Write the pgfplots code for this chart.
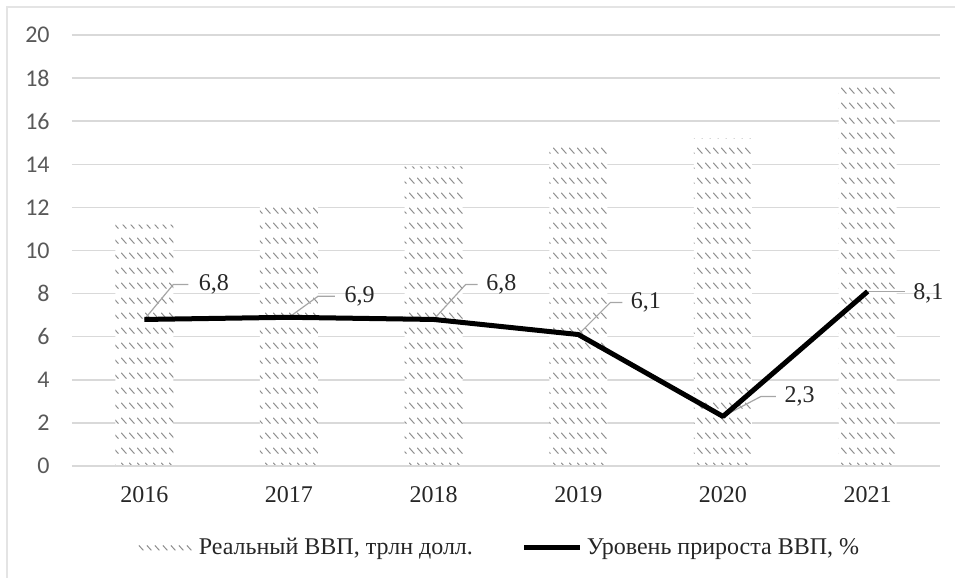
\documentclass[border=0pt]{standalone}
\usepackage{pgfplots}
\pgfplotsset{compat=1.18}
\usetikzlibrary{patterns}
\usepackage{fontspec}
\setmainfont{Liberation Serif}
\newfontfamily\carlito{Carlito}
\definecolor{gridc}{HTML}{D9D9D9}
\definecolor{tickc}{HTML}{595959}
\definecolor{hatchc}{HTML}{8F8F8F}
\definecolor{leadc}{HTML}{A6A6A6}
\definecolor{labc}{HTML}{262626}
\pgfdeclarepatternformonly{dashrows}{\pgfqpoint{-1pt}{-1pt}}{\pgfqpoint{5pt}{8.5pt}}{\pgfqpoint{4pt}{7.5pt}}{%
  \pgfsetlinewidth{0.5pt}\pgfsetroundcap
  \pgfpathmoveto{\pgfqpoint{0.7pt}{5pt}}\pgfpathlineto{\pgfqpoint{3.1pt}{2.3pt}}\pgfusepath{stroke}}
\begin{document}
\begin{tikzpicture}
\path[use as bounding box] (-36pt,-56pt) rectangle (441.5pt,233pt);
\draw[gridc!70, line width=0.6pt] (-32.5pt,-56pt) -- (-32.5pt,229.5pt) -- (441.5pt,229.5pt);
\begin{axis}[
  at={(0,0)}, anchor=south west, scale only axis, width=434pt, height=215.5pt,
  xmin=-0.5, xmax=5.5, ymin=0, ymax=20,
  xtick={0,1,2,3,4,5}, xticklabels={2016,2017,2018,2019,2020,2021},
  ytick={0,2,...,20},
  ymajorgrids, major grid style={gridc, line width=0.75pt},
  axis line style={draw=none}, major tick length=0pt,
  clip=false,
  /pgf/number format/assume math mode=true,
  yticklabel style={font=\carlito\fontsize{12}{14}\selectfont, text=tickc, anchor=east, inner sep=0pt, xshift=-11pt},
  xticklabel style={font=\fontsize{12}{14}\selectfont, text=labc, anchor=north, inner sep=0pt, yshift=-10pt},
  legend style={draw=none, fill=none, at={(0.494,-0.19)}, anchor=center, legend columns=2,
    font=\fontsize{12}{14}\selectfont, text=labc, /tikz/every even column/.append style={column sep=22.5pt}},
  legend cell align=left,
  every node near coord/.append style={text=labc},
]
\addplot[ybar, bar width=29pt, draw=none, fill=white,
  postaction={pattern=dashrows, pattern color=hatchc},
  legend image code/.code={\path (0pt,0pt) -- (28pt,0pt);\foreach \i in {0,...,6}{\draw[hatchc, line width=0.5pt] ({\i*4pt},1.2pt) -- ++(2.2pt,-2.4pt);}}]
  coordinates {(0,11.2) (1,12.3) (2,13.9) (3,14.9) (4,15.2) (5,17.9)};
\addlegendentry{Реальный ВВП, трлн долл.}
\draw[gridc, line width=0.75pt] (axis cs:-0.5,0) -- (axis cs:5.5,0);
\draw[leadc, line width=0.6pt] (axis cs:0,6.8) -- ++(14.5pt,17.5pt) -- ++(7.5pt,0pt) node[anchor=west, inner sep=0pt, xshift=5pt, text=labc, font=\fontsize{12}{14}\selectfont]{6,8};
\draw[leadc, line width=0.6pt] (axis cs:1,6.9) -- ++(14.5pt,10.5pt) -- ++(8.5pt,0pt) node[anchor=west, inner sep=0pt, xshift=4.5pt, text=labc, font=\fontsize{12}{14}\selectfont]{6,9};
\draw[leadc, line width=0.6pt] (axis cs:2,6.8) -- ++(16pt,17.5pt) -- ++(6pt,0pt) node[anchor=west, inner sep=0pt, xshift=4pt, text=labc, font=\fontsize{12}{14}\selectfont]{6,8};
\draw[leadc, line width=0.6pt] (axis cs:3,6.1) -- ++(16pt,16pt) -- ++(6pt,0pt) node[anchor=west, inner sep=0pt, xshift=4pt, text=labc, font=\fontsize{12}{14}\selectfont]{6,1};
\draw[leadc, line width=0.6pt] (axis cs:4,2.3) -- ++(19pt,10pt) -- ++(7.5pt,0pt) node[anchor=west, inner sep=0pt, xshift=4pt, text=labc, font=\fontsize{12}{14}\selectfont]{2,3};
\draw[leadc, line width=0.6pt] (axis cs:5,8.1) -- ++(18.5pt,0pt) node[anchor=west, inner sep=0pt, xshift=4pt, yshift=-1pt, text=labc, font=\fontsize{12}{14}\selectfont]{8,1};
\addplot[black, line width=2.5pt, line join=round, mark=none,
  legend image code/.code={\draw[black, line width=2.5pt] (0pt,0pt) -- (28pt,0pt);}]
  coordinates {(0,6.8) (1,6.9) (2,6.8) (3,6.1) (4,2.3) (5,8.1)};
\addlegendentry{Уровень прироста ВВП, \%}
\end{axis}
\end{tikzpicture}
\end{document}
